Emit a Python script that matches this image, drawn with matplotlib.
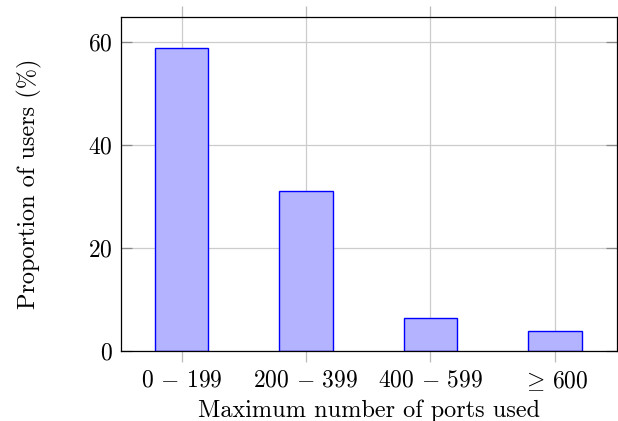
import matplotlib
matplotlib.use("Agg")
import matplotlib.pyplot as plt

# dane z wykresu
categories = [r"$0\,-\,199$", r"$200\,-\,399$", r"$400\,-\,599$", r"$\geq\,600$"]
proportion = [58.8, 31.0, 6.3, 3.8]
yticks = [0, 20, 40, 60]

plt.rcParams["font.family"] = "serif"
plt.rcParams["font.serif"] = ["cmr10", "DejaVu Serif"]
plt.rcParams["mathtext.fontset"] = "cm"
plt.rcParams["axes.formatter.use_mathtext"] = True

fig = plt.figure(figsize=(6.18, 4.21), dpi=100)
ax = fig.add_axes([0.1953, 0.1663, 0.8031, 0.7926])

x = list(range(len(categories)))
ax.bar(x, proportion, width=0.43, color=(0.7, 0.7, 1.0), edgecolor="blue",
       linewidth=1.0, zorder=3)

ax.set_xlim(-0.49, 3.5)
ax.set_ylim(0, 64.7)
ax.set_xticks(x)
ax.set_xticklabels(categories)
ax.set_yticks(yticks)
ax.set_yticklabels([r"$%d$" % v for v in yticks])

ax.grid(True, color="#cccccc", linewidth=0.9, zorder=0)
ax.tick_params(axis="x", direction="out", top=True, length=8, width=0.9,
               color="#bbbbbb", labelsize=17, pad=5)
ax.tick_params(axis="y", direction="in", right=True, length=8, width=0.9,
               color="#888888", labelsize=17, pad=6)
for s in ax.spines.values():
    s.set_linewidth(0.9)
    s.set_zorder(4)

ax.set_xlabel("Maximum number of ports used", fontsize=17.5, labelpad=5)
ax.set_ylabel("Proportion of users (%)", fontsize=17.5, labelpad=33)

fig.savefig("out.png", dpi=100)
